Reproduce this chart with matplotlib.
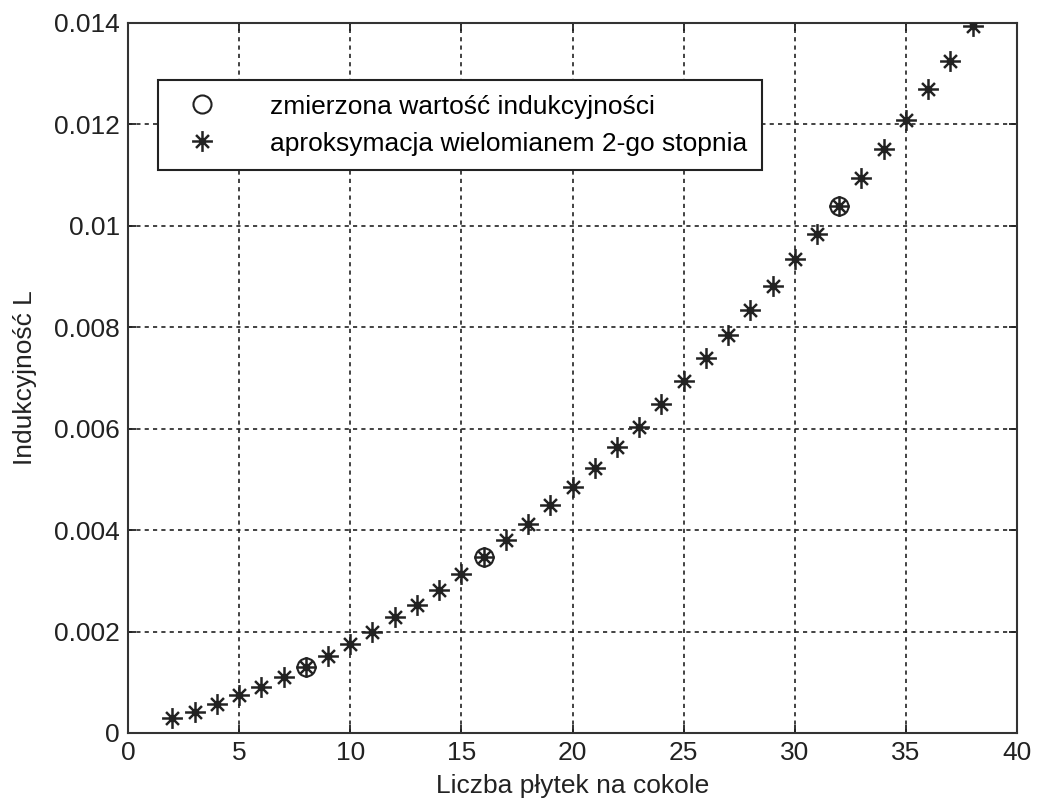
import matplotlib
matplotlib.use('Agg')
import matplotlib.pyplot as plt
from matplotlib.path import Path

# liczba plytek i indukcyjnosc
plytki = list(range(2, 39))
L_aproks = [0.00029, 0.00041, 0.00057, 0.00074, 0.00090, 0.00110, 0.00131,
            0.00151, 0.00175, 0.00200, 0.00229, 0.00253, 0.00282, 0.00314,
            0.00348, 0.00380, 0.00412, 0.00450, 0.00486, 0.00522, 0.00564,
            0.00603, 0.00649, 0.00694, 0.00739, 0.00785, 0.00834, 0.00882,
            0.00935, 0.00983, 0.01040, 0.01094, 0.01151, 0.01208, 0.01270,
            0.01326, 0.01394]
plytki_pomiar = [8, 16, 32]
L_pomiar = [0.00131, 0.00348, 0.01040]

x_ticks = [0, 5, 10, 15, 20, 25, 30, 35, 40]
y_ticks = [0, 0.002, 0.004, 0.006, 0.008, 0.01, 0.012, 0.014]
y_labels = ['0', '0.002', '0.004', '0.006', '0.008', '0.01', '0.012', '0.014']

plt.rcParams['font.family'] = ['Liberation Sans', 'DejaVu Sans']


def asterisk_marker():
    # matlab-like '*': long + and shorter x
    d = 0.62
    verts = [(0, -1), (0, 1), (-1, 0), (1, 0),
             (-d, -d), (d, d), (-d, d), (d, -d)]
    codes = [Path.MOVETO, Path.LINETO] * 4
    return Path(verts, codes)


fig = plt.figure(figsize=(10.38, 8.09), dpi=100)
ax = fig.add_axes([128 / 1038, 76 / 809, 889 / 1038, 710 / 809])

star = asterisk_marker()
ax.plot(plytki_pomiar, L_pomiar, linestyle='none', marker='o', markersize=13,
        markerfacecolor='none', markeredgecolor='#222222', markeredgewidth=1.5,
        label='zmierzona wartość indukcyjności', zorder=3)
ax.plot(plytki, L_aproks, linestyle='none', marker=star, markersize=15,
        markeredgecolor='#222222', markerfacecolor='#222222', markeredgewidth=1.8,
        label='aproksymacja wielomianem 2-go stopnia', zorder=3)
ax.plot(plytki, L_aproks, linestyle='none', marker='o', markersize=4.5,
        color='#222222', zorder=3)

ax.set_xlim(0, 40)
ax.set_ylim(0, 0.014)
ax.set_xticks(x_ticks)
ax.set_xticklabels([str(t) for t in x_ticks])
ax.set_yticks(y_ticks)
ax.set_yticklabels(y_labels)

ax.grid(True, color='#222222', linestyle=(0, (2.5, 2.5)), linewidth=1.2)
ax.tick_params(direction='in', length=6, width=1.3, top=True, right=True,
               labelsize=19, colors='#222222', pad=6)
for sp in ax.spines.values():
    sp.set_linewidth(1.5)
    sp.set_color('#333333')

ax.set_xlabel('Liczba płytek na cokole', fontsize=19, color='#222222', labelpad=6)
ax.set_ylabel('Indukcyjność L', fontsize=19, color='#222222', labelpad=12)

leg = ax.legend(loc='upper left', bbox_to_anchor=(30 / 889, 1 - 57 / 710),
                fontsize=19, frameon=True, fancybox=False, edgecolor='#222222',
                borderpad=0.55, labelspacing=0.5, handlelength=2.2,
                handletextpad=1.5, borderaxespad=0)
leg.get_frame().set_linewidth(1.5)
leg.get_frame().set_alpha(1)

fig.savefig('out.png', dpi=100)
